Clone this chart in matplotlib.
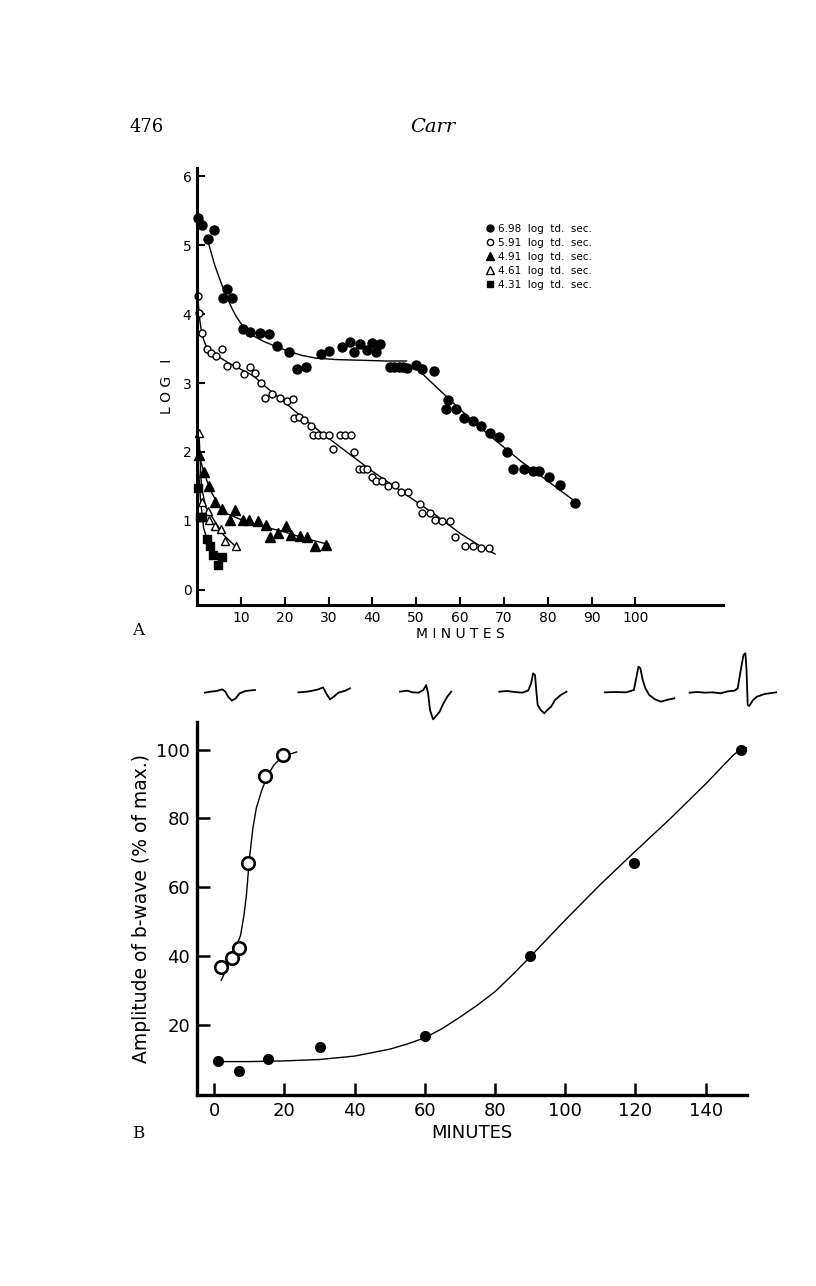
import matplotlib.pyplot as plt
from matplotlib.lines import Line2D

# ---------------- panel A : log threshold during dark adaptation ----------------
t_698 = [0.3, 1.1, 2.4, 3.9, 6.0, 6.8, 7.9, 10.4, 12.2, 14.4, 16.4, 18.3, 21.0, 22.7, 24.8,
         28.3, 30.1, 33.1, 35.0, 35.8, 37.1, 38.7, 39.9, 40.9, 41.7, 44.0, 44.9, 46.1, 46.9, 47.8,
         49.9, 51.4, 54.0, 57.3, 56.9, 59.0, 61.0, 63.0, 64.9, 66.8, 68.8, 70.7, 72.1, 74.6,
         76.6, 78.0, 80.2, 82.7, 86.3]
y_698 = [5.39, 5.30, 5.09, 5.22, 4.23, 4.36, 4.24, 3.79, 3.74, 3.73, 3.71, 3.54, 3.45, 3.20, 3.23,
         3.42, 3.47, 3.53, 3.60, 3.45, 3.57, 3.48, 3.58, 3.45, 3.57, 3.24, 3.24, 3.24, 3.24, 3.22,
         3.26, 3.21, 3.18, 2.76, 2.63, 2.62, 2.50, 2.45, 2.38, 2.27, 2.22, 2.00, 1.76, 1.76,
         1.73, 1.72, 1.64, 1.52, 1.26]

t_591 = [0.3, 0.5, 1.2, 2.2, 3.1, 4.3, 5.6, 6.9, 8.9, 10.7, 12.1, 13.2, 14.5, 15.6, 17.2, 18.9,
         20.5, 21.8, 22.2, 23.3, 24.4, 25.9, 26.5, 27.6, 28.8, 30.1, 31.1, 32.6, 33.8, 35.1, 35.9,
         36.9, 37.9, 38.7, 40.0, 40.8, 42.2, 43.6, 45.1, 46.6, 48.1, 50.8, 51.4, 53.2, 54.4, 56.0,
         57.8, 58.9, 61.2, 62.9, 64.7, 66.7]
y_591 = [4.26, 4.01, 3.73, 3.50, 3.43, 3.39, 3.49, 3.25, 3.26, 3.13, 3.23, 3.15, 3.00, 2.78, 2.84,
         2.79, 2.74, 2.77, 2.50, 2.51, 2.46, 2.37, 2.25, 2.25, 2.25, 2.25, 2.05, 2.25, 2.25, 2.25,
         2.00, 1.76, 1.75, 1.76, 1.63, 1.58, 1.58, 1.51, 1.52, 1.42, 1.42, 1.24, 1.12, 1.12, 1.01,
         1.00, 1.00, 0.77, 0.63, 0.64, 0.60, 0.61]

t_491 = [0.5, 1.7, 2.7, 4.1, 5.6, 7.5, 8.7, 10.5, 11.8, 14.0, 15.7, 16.6, 18.5, 20.3, 21.4,
         23.5, 25.2, 27.0, 29.5]
y_491 = [1.96, 1.71, 1.51, 1.27, 1.18, 1.01, 1.16, 1.01, 1.01, 1.00, 0.94, 0.76, 0.82, 0.93, 0.80,
         0.78, 0.76, 0.63, 0.65]

t_461 = [0.5, 1.2, 2.4, 2.8, 4.1, 5.5, 6.5, 8.8]
y_461 = [2.27, 1.27, 1.15, 1.01, 0.93, 0.88, 0.71, 0.64]

t_431 = [0.3, 0.6, 1.2, 2.2, 3.0, 3.7, 4.9, 5.7]
y_431 = [1.48, 1.05, 1.05, 0.74, 0.63, 0.51, 0.36, 0.48]

# hand-drawn curves
fit_698a_t = [2.4, 3.2, 4, 5, 6, 7, 8, 9, 10.5, 12, 13, 15, 18, 21, 24, 27.3, 32, 38, 43, 47.8]
fit_698a_y = [5.08, 4.90, 4.72, 4.54, 4.37, 4.22, 4.08, 3.96, 3.82, 3.72, 3.68, 3.61, 3.53, 3.46,
              3.40, 3.36, 3.34, 3.33, 3.32, 3.32]
fit_698b_t = [50.0, 57.3, 62, 67.5, 74, 80, 86.3]
fit_698b_y = [3.22, 2.78, 2.50, 2.20, 1.86, 1.58, 1.28]
fit_591_t = [0.3, 0.6, 1, 1.5, 2, 3, 4, 5.5, 7, 10, 13, 15, 20, 25, 30, 35, 40, 45, 50, 55, 60,
             65, 68]
fit_591_y = [4.15, 3.93, 3.75, 3.63, 3.55, 3.47, 3.42, 3.36, 3.30, 3.20, 3.10, 2.98, 2.72, 2.45,
             2.20, 1.96, 1.72, 1.50, 1.28, 1.06, 0.82, 0.62, 0.52]
fit_491_t = [0.3, 1.5, 3, 5, 7, 10, 15, 20, 25, 30]
fit_491_y = [2.0, 1.72, 1.45, 1.22, 1.10, 1.02, 0.92, 0.84, 0.74, 0.66]
fit_461_t = [0.5, 1, 2, 4, 6, 8.8]
fit_461_y = [2.2, 1.5, 1.2, 1.0, 0.8, 0.63]
fit_431_t = [0.2, 0.8, 1.5, 2.2, 3.0, 4.0]
fit_431_y = [1.9, 1.3, 0.9, 0.75, 0.62, 0.47]

legend_labels = ["6.98  log  td.  sec.", "5.91  log  td.  sec.", "4.91  log  td.  sec.",
                 "4.61  log  td.  sec.", "4.31  log  td.  sec."]

# ---------------- panel B : b-wave amplitude ----------------
t_dark = [1.2, 7.1, 15.4, 30.1, 60.0, 89.9, 119.6, 150.0]
amp_dark = [9.7, 6.8, 10.1, 13.6, 16.9, 40.1, 67.1, 100.0]
t_light = [1.8, 5.2, 7.1, 9.5, 14.4, 19.5]
amp_light = [36.8, 39.4, 42.5, 67.2, 92.2, 98.3]

fit_dark_t = [3, 10, 20, 30, 40, 50, 55, 60, 65, 70, 75, 80, 85, 90, 100, 110, 120, 130, 140,
              148, 150, 153]
fit_dark_a = [9.4, 9.4, 9.6, 10.0, 11.0, 13.0, 14.5, 16.3, 19.0, 22.3, 25.8, 29.7, 34.6, 39.8,
              50.5, 60.8, 70.5, 80, 90, 98.5, 100, 101]
fit_light_t = [2, 4, 6, 7.5, 8.5, 9.2, 10, 11, 12, 13.5, 15, 17, 19.5, 23.5]
fit_light_a = [33, 37.5, 42, 46, 52, 58, 68, 77, 83, 88, 92, 95.5, 98, 99.3]

# ERG traces above panel B, traced on an enlarged crop of the page
# (x: origin 180, scale 2.6 ; y: origin 650, scale 3)
waves = [
    [(65, 128), (80, 125), (95, 123), (110, 118), (118, 125), (125, 140), (135, 152), (145, 145),
     (155, 130), (170, 123), (195, 120)],
    [(308, 127), (330, 125), (345, 122), (360, 118), (372, 112), (380, 130), (390, 148),
     (400, 140), (412, 128), (430, 122), (442, 115)],
    [(572, 125), (590, 122), (605, 127), (620, 128), (633, 120), (640, 105), (645, 130),
     (650, 180), (658, 208), (668, 195), (675, 185), (685, 160), (695, 140), (705, 125)],
    [(830, 125), (850, 123), (870, 126), (890, 128), (905, 122), (913, 100), (918, 70),
     (923, 75), (927, 130), (930, 165), (938, 180), (947, 190), (955, 180), (965, 170),
     (975, 150), (990, 135), (1005, 125)],
    [(1105, 127), (1130, 126), (1160, 127), (1180, 120), (1187, 80), (1192, 50), (1197, 55),
     (1203, 90), (1210, 115), (1220, 135), (1235, 148), (1250, 155), (1265, 150), (1285, 145)],
    [(1325, 128), (1345, 126), (1365, 128), (1385, 127), (1405, 130), (1425, 124), (1442, 122),
     (1450, 115), (1458, 60), (1465, 15), (1470, 10), (1473, 60), (1476, 165), (1480, 168),
     (1490, 150), (1500, 140), (1520, 132), (1550, 127)],
]

W, H = 816, 1286
fig = plt.figure(figsize=(W / 100, H / 100), dpi=100)
plt.rcParams['font.family'] = 'DejaVu Sans'


def fbox(x0, y0, x1, y1):
    # pixel box (top-left origin) -> figure fraction
    return [x0 / W, 1 - y1 / H, (x1 - x0) / W, (y1 - y0) / H]


# ---- panel A ----
axA = fig.add_axes(fbox(197, 168, 723, 605))
for ft, fy in [(fit_698a_t, fit_698a_y), (fit_698b_t, fit_698b_y), (fit_591_t, fit_591_y),
               (fit_491_t, fit_491_y), (fit_461_t, fit_461_y), (fit_431_t, fit_431_y)]:
    axA.plot(ft, fy, color='k', lw=1.0)

axA.plot(t_698, y_698, 'o', color='k', ms=6.5, ls='none', clip_on=False)
axA.plot(t_591, y_591, 'o', mfc='white', mec='k', mew=1.0, ms=5, ls='none', clip_on=False)
axA.plot(t_491, y_491, '^', color='k', ms=6.5, ls='none', clip_on=False)
axA.plot(t_461, y_461, '^', mfc='white', mec='k', mew=1.0, ms=6, ls='none', clip_on=False)
axA.plot(t_431, y_431, 's', color='k', ms=5.5, ls='none', clip_on=False)

axA.set_xlim(0, 120)
axA.set_ylim(-0.22, 6.12)
axA.spines['top'].set_visible(False)
axA.spines['right'].set_visible(False)
axA.spines['left'].set_linewidth(2.2)
axA.spines['bottom'].set_linewidth(2.2)
axA.set_xticks(range(10, 101, 10))
axA.set_yticks(range(0, 7))
axA.tick_params(direction='in', length=6, width=1.5, labelsize=10, pad=4)
axA.set_xlabel('M I N U T E S', fontsize=10, labelpad=2)
axA.set_ylabel('L O G   I', fontsize=10, labelpad=6)

handles = [
    Line2D([], [], marker='o', ls='none', color='k', ms=5),
    Line2D([], [], marker='o', ls='none', mfc='white', mec='k', mew=1.0, ms=4.5),
    Line2D([], [], marker='^', ls='none', color='k', ms=6),
    Line2D([], [], marker='^', ls='none', mfc='white', mec='k', mew=1.0, ms=6),
    Line2D([], [], marker='s', ls='none', color='k', ms=5),
]
fig.legend(handles, legend_labels, loc='upper left', bbox_to_anchor=(486 / W, 1 - 224 / H),
           frameon=False, fontsize=7.5, handlelength=0.8, handletextpad=0.4,
           labelspacing=0.38, borderpad=0, borderaxespad=0)

# ---- panel B ----
axB = fig.add_axes(fbox(197, 722, 747, 1095))
axB.plot(fit_dark_t, fit_dark_a, color='k', lw=1.0)
axB.plot(fit_light_t, fit_light_a, color='k', lw=1.0)
axB.plot(t_dark, amp_dark, 'o', color='k', ms=7, ls='none', clip_on=False)
axB.plot(t_light, amp_light, 'o', mfc='white', mec='k', mew=1.9, ms=9, ls='none', clip_on=False)
axB.set_xlim(-4.9, 151.8)
axB.set_ylim(-0.3, 108)
axB.spines['top'].set_visible(False)
axB.spines['right'].set_visible(False)
axB.spines['left'].set_linewidth(2.4)
axB.spines['bottom'].set_linewidth(2.4)
axB.set_xticks(range(0, 141, 20))
axB.set_yticks(range(20, 101, 20))
axB.tick_params(direction='in', length=9, width=1.8, labelsize=13, pad=5)
axB.set_xlabel('MINUTES', fontsize=13, labelpad=3)
axB.set_ylabel('Amplitude of b-wave (% of max.)', fontsize=13.5, labelpad=4)

# ---- page decorations and ERG traces ----
ov = fig.add_axes([0, 0, 1, 1], zorder=-1)
ov.set_xlim(0, W)
ov.set_ylim(H, 0)
ov.axis('off')
for trace in waves:
    xs = [180 + p[0] / 2.6 for p in trace]
    ys = [650 + p[1] / 3 for p in trace]
    ov.plot(xs, ys, color='k', lw=1.3)

fig.text(130 / W, 1 - 127 / H, '476', fontsize=13, family='DejaVu Serif', va='center')
fig.text(433 / W, 1 - 127 / H, 'Carr', fontsize=14, family='DejaVu Serif', style='italic',
         va='center', ha='center')
fig.text(132 / W, 1 - 630 / H, 'A', fontsize=12, family='DejaVu Serif', va='center')
fig.text(132 / W, 1 - 1133 / H, 'B', fontsize=12, family='DejaVu Serif', va='center')

fig.savefig('out.png', dpi=100)
